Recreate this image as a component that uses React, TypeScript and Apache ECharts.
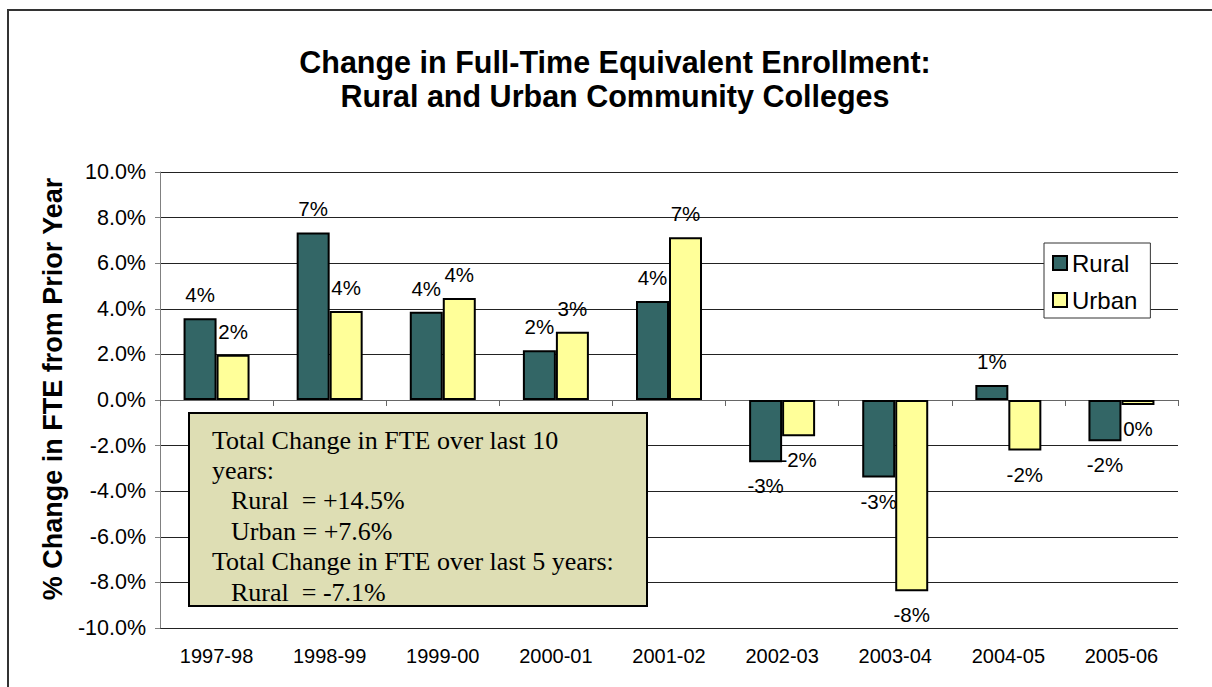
import React, { useEffect, useRef } from "react";
import * as echarts from "echarts";

const titleLines = [
  "Change in Full-Time Equivalent Enrollment:",
  "Rural and Urban Community Colleges",
];
const yAxisName = "% Change in FTE from Prior Year";
const categories = [
  "1997-98",
  "1998-99",
  "1999-00",
  "2000-01",
  "2001-02",
  "2002-03",
  "2003-04",
  "2004-05",
  "2005-06",
];
const seriesNames = ["Rural", "Urban"];
const ruralValues = [3.59, 7.35, 3.87, 2.18, 4.34, -2.73, -3.4, 0.66, -1.81];
const urbanValues = [1.98, 3.9, 4.47, 2.99, 7.14, -1.59, -8.39, -2.22, -0.22];
const yMin = -10;
const yMax = 10;
const yInterval = 2;
const noteLines = [
  "Total Change in FTE over last 10",
  "years:",
  "Rural  = +14.5%",
  "Urban = +7.6%",
  "Total Change in FTE over last 5 years:",
  "Rural  = -7.1%",
];
const noteIndented = [false, false, true, true, false, true];

const SANS = "'Liberation Sans', Arial, sans-serif";
const SERIF = "'Liberation Serif', 'Times New Roman', serif";

function toData(values: number[]) {
  return values.map((v) => ({
    value: v,
    label: { position: v >= 0 ? "top" : "bottom" },
  }));
}

export default function App() {
  const ref = useRef<HTMLDivElement>(null);

  useEffect(() => {
    if (!ref.current) return;
    const chart = echarts.init(ref.current, undefined, { renderer: "svg" });

    const labelCfg = {
      show: true,
      distance: 13,
      fontSize: 20.5,
      fontFamily: SANS,
      color: "#000",
      formatter: (p: any) => `${Math.round(p.value)}%`,
    };

    const noteTexts = noteLines.map((t, i) => ({
      type: "text",
      x: noteIndented[i] ? 231 : 212,
      y: 440 + i * 30.4,
      z: 101,
      style: {
        text: t,
        fontSize: 26,
        fontFamily: SERIF,
        fill: "#000",
        verticalAlign: "middle",
        align: "left",
      },
    }));

    chart.setOption({
      animation: false,
      backgroundColor: "#fff",
      textStyle: { fontFamily: SANS },
      title: {
        text: titleLines.join("\n"),
        left: 615,
        textAlign: "center",
        top: 45,
        padding: 0,
        textStyle: {
          fontSize: 30.5,
          fontWeight: "bold",
          fontFamily: SANS,
          color: "#000",
          lineHeight: 34,
        },
      },
      legend: {
        orient: "vertical",
        left: 1044,
        top: 243,
        padding: [8, 13, 6, 8],
        itemGap: 13,
        itemWidth: 14,
        itemHeight: 14,
        itemTextGap: 9,
        icon: "rect",
        backgroundColor: "#fff",
        borderColor: "#333",
        borderWidth: 1,
        borderRadius: 0,
        itemStyle: { borderColor: "#000", borderWidth: 2 },
        textStyle: { fontSize: 24, fontFamily: SANS, color: "#000" },
        data: seriesNames,
      },
      grid: { left: 160, right: 34, top: 172, bottom: 59, containLabel: false },
      xAxis: [
        {
          type: "category",
          data: categories,
          position: "bottom",
          axisLine: { show: false, onZero: false },
          axisTick: { show: false },
          splitLine: { show: false },
          axisLabel: { fontSize: 20, margin: 18, color: "#000", fontFamily: SANS },
        },
        {
          type: "category",
          data: categories,
          position: "bottom",
          axisLine: { show: true, onZero: true, lineStyle: { color: "#666", width: 1 } },
          axisTick: { show: true, length: 6, lineStyle: { color: "#666" } },
          axisLabel: { show: false },
          splitLine: { show: false },
        },
      ],
      yAxis: {
        type: "value",
        min: yMin,
        max: yMax,
        interval: yInterval,
        name: yAxisName,
        nameLocation: "middle",
        nameGap: 94,
        nameTextStyle: {
          fontSize: 27,
          fontWeight: "bold",
          fontFamily: SANS,
          color: "#000",
          padding: [0, 0, 0, 22],
        },
        axisLine: { show: true, lineStyle: { color: "#808080", width: 1 } },
        axisTick: { show: true, length: 5, lineStyle: { color: "#808080" } },
        axisLabel: {
          fontSize: 21.5,
          margin: 14,
          color: "#000",
          fontFamily: SANS,
          formatter: (v: number) => `${v.toFixed(1)}%`,
        },
        splitLine: { show: true, lineStyle: { color: "#222", width: 1 } },
      },
      series: [
        {
          name: seriesNames[0],
          type: "bar",
          xAxisIndex: 0,
          data: toData(ruralValues),
          barWidth: 33,
          barGap: "0%",
          itemStyle: { color: "#336666", borderColor: "#000", borderWidth: 2 },
          label: labelCfg,
        },
        {
          name: seriesNames[1],
          type: "bar",
          xAxisIndex: 0,
          data: toData(urbanValues),
          barWidth: 33,
          barGap: "0%",
          itemStyle: { color: "#FFFF99", borderColor: "#000", borderWidth: 2 },
          label: labelCfg,
        },
      ],
      graphic: [
        {
          type: "rect",
          z: 100,
          shape: { x: 8, y: 10, width: 1400, height: 900 },
          style: { fill: "none", stroke: "#333", lineWidth: 2 },
          silent: true,
        },
        {
          type: "rect",
          z: 100,
          shape: { x: 189, y: 413, width: 458, height: 193 },
          style: { fill: "#DEDEB4", stroke: "#000", lineWidth: 2 },
        },
        ...noteTexts,
      ],
    });

    return () => chart.dispose();
  }, []);

  return (
    <div
      ref={ref}
      style={{ position: "fixed", left: 0, top: 0, width: 1212, height: 687 }}
    />
  );
}
